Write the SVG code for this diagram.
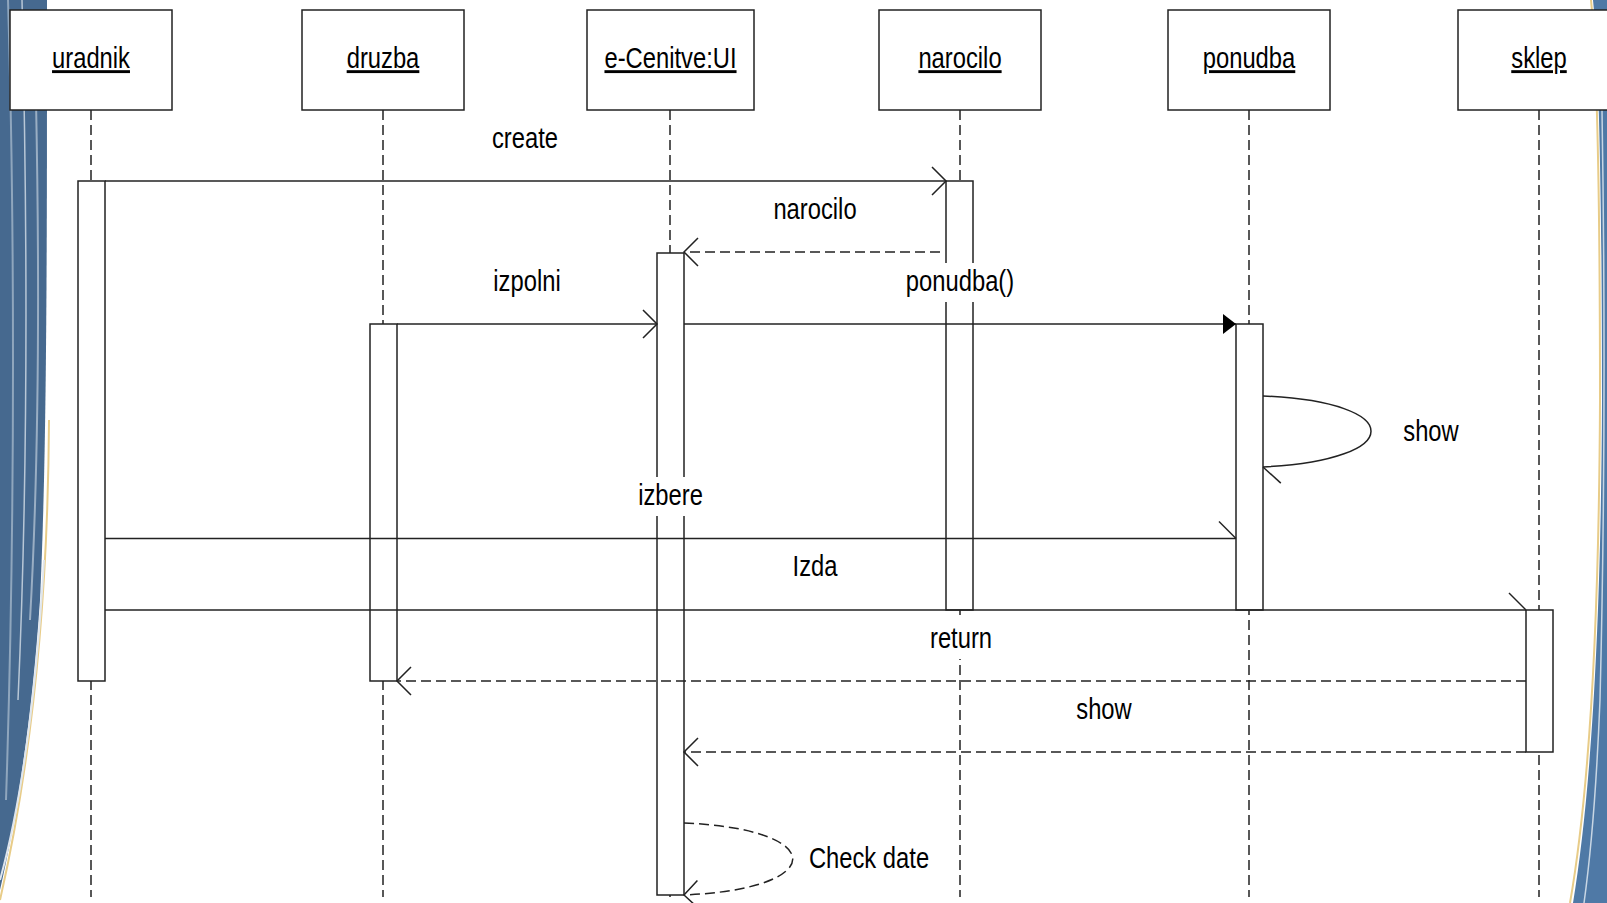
<svg xmlns="http://www.w3.org/2000/svg" width="1607" height="903" viewBox="0 0 1607 903">
<style>
.bx{fill:#fff;stroke:#222;stroke-width:1.5}
.act{fill:#fff;stroke:#222;stroke-width:1.5}
.ll{fill:none;stroke:#222;stroke-width:1.5;stroke-dasharray:10 5}
.msg{fill:none;stroke:#222;stroke-width:1.5}
.ret{fill:none;stroke:#222;stroke-width:1.5;stroke-dasharray:10 5}
.t{font-family:"Liberation Sans",Arial,sans-serif;font-size:29px;fill:#000;text-anchor:middle}
.u{text-decoration:underline}
.lb{fill:#fff}
</style>
<defs>
<marker id="open" markerUnits="userSpaceOnUse" orient="auto" overflow="visible" markerWidth="1" markerHeight="1" refX="0" refY="0">
<path d="M-14,-14 L0,0 L-14,14" fill="none" stroke="#222" stroke-width="1.5" stroke-dasharray="none"/>
</marker>
<marker id="half" markerUnits="userSpaceOnUse" orient="auto" overflow="visible" markerWidth="1" markerHeight="1" refX="0" refY="0">
<path d="M-17,-17 L0,0" fill="none" stroke="#222" stroke-width="1.5" stroke-dasharray="none"/>
</marker>
<marker id="fill" markerUnits="userSpaceOnUse" orient="auto" overflow="visible" markerWidth="1" markerHeight="1" refX="0" refY="0">
<path d="M-13,-10 L0,0 L-13,10 Z" fill="#000" stroke="none"/>
</marker>
</defs>
<rect x="0" y="0" width="1607" height="903" fill="#fff"/>
<g id="decoration">
<path d="M0,0 L47,0 C47,250 47,450 40,600 C32,720 16,820 0,890 Z" fill="#46698f"/>
<path d="M8,0 C14,200 16,500 6,800" fill="none" stroke="#8fa6bd" stroke-width="2"/>
<path d="M22,0 C28,250 28,480 18,700" fill="none" stroke="#b8c7d6" stroke-width="1.5"/>
<path d="M36,100 C40,300 38,480 30,620" fill="none" stroke="#9aaec3" stroke-width="2"/>
<path d="M49,420 C48,600 32,760 0,900" fill="none" stroke="#e8cc88" stroke-width="2"/>
<path d="M44,560 C36,700 22,800 0,880" fill="none" stroke="#dfe6ee" stroke-width="2"/>
<path d="M1607,0 L1593,0 C1599,60 1602,200 1602,400 C1601,640 1590,800 1573,903 L1607,903 Z" fill="#4f79a6"/>
<path d="M1591,0 C1597,60 1600,200 1600,400 C1599,640 1588,800 1570,903" fill="none" stroke="#e8cc88" stroke-width="2"/>
<path d="M1602,110 C1605,300 1605,500 1600,700 C1596,800 1590,860 1584,903" fill="none" stroke="#c8d6e4" stroke-width="1.5"/>
</g>
<g id="lifelines">
<line class="ll" x1="91" y1="110" x2="91" y2="897"/>
<line class="ll" x1="383" y1="110" x2="383" y2="897"/>
<line class="ll" x1="670" y1="110" x2="670" y2="897"/>
<line class="ll" x1="960" y1="110" x2="960" y2="897"/>
<line class="ll" x1="1249" y1="110" x2="1249" y2="897"/>
<line class="ll" x1="1539" y1="110" x2="1539" y2="897"/>
</g>
<g id="uradnik"><rect class="bx" x="10" y="10" width="162" height="100"/><text class="t u" transform="translate(91,68) scale(0.82,1)">uradnik</text><rect class="act" x="78" y="181" width="27" height="500"/></g>
<g id="druzba"><rect class="bx" x="302" y="10" width="162" height="100"/><text class="t u" transform="translate(383,68) scale(0.82,1)">druzba</text><rect class="act" x="370" y="324" width="27" height="357"/></g>
<g id="e-cenitve"><rect class="bx" x="587" y="10" width="167" height="100"/><text class="t u" transform="translate(670.5,68) scale(0.82,1)">e-Cenitve:UI</text><rect class="act" x="657" y="253" width="27" height="642"/></g>
<g id="narocilo"><rect class="bx" x="879" y="10" width="162" height="100"/><text class="t u" transform="translate(960,68) scale(0.82,1)">narocilo</text><rect class="act" x="946" y="181" width="27" height="429"/></g>
<g id="ponudba"><rect class="bx" x="1168" y="10" width="162" height="100"/><text class="t u" transform="translate(1249,68) scale(0.82,1)">ponudba</text><rect class="act" x="1236" y="324" width="27" height="286"/></g>
<g id="sklep"><rect class="bx" x="1458" y="10" width="162" height="100"/><text class="t u" transform="translate(1539,68) scale(0.82,1)">sklep</text><rect class="act" x="1526" y="610" width="27" height="142"/></g>
<g id="connectors">
<line class="msg" x1="105" y1="181" x2="946" y2="181" marker-end="url(#open)"/>
<line class="ret" x1="940" y1="252" x2="684" y2="252" marker-end="url(#open)"/>
<line class="msg" x1="397" y1="324" x2="657" y2="324" marker-end="url(#open)"/>
<line class="msg" x1="684" y1="324" x2="1236" y2="324" marker-end="url(#fill)"/>
<path class="msg" d="M1263,396 C1407,402 1407,460 1263,467" marker-end="url(#half)"/>
<line class="msg" x1="105" y1="538.5" x2="1236" y2="538.5" marker-end="url(#half)"/>
<line class="msg" x1="105" y1="610" x2="1526" y2="610" marker-end="url(#half)"/>
<line class="ret" x1="1526" y1="681" x2="397" y2="681" marker-end="url(#open)"/>
<line class="ret" x1="1526" y1="752" x2="684" y2="752" marker-end="url(#open)"/>
<path class="ret" d="M684,823 C829,829 829,889 684,895" marker-end="url(#open)"/>
</g>
<g id="labels">
<rect class="lb" x="490" y="120" width="70" height="39"/><text class="t" transform="translate(525,148) scale(0.82,1)">create</text>
<rect class="lb" x="762" y="191" width="106" height="39"/><text class="t" transform="translate(815,219) scale(0.82,1)">narocilo</text>
<rect class="lb" x="490" y="263" width="74" height="39"/><text class="t" transform="translate(527,291) scale(0.82,1)">izpolni</text>
<rect class="lb" x="903" y="263" width="114" height="39"/><text class="t" transform="translate(960,291) scale(0.82,1)">ponudba()</text>
<rect class="lb" x="1399" y="413" width="64" height="39"/><text class="t" transform="translate(1431,441) scale(0.82,1)">show</text>
<rect class="lb" x="635" y="477" width="71" height="39"/><text class="t" transform="translate(670.5,505) scale(0.82,1)">izbere</text>
<rect class="lb" x="790" y="548" width="50" height="39"/><text class="t" transform="translate(815,576) scale(0.82,1)">Izda</text>
<rect class="lb" x="927" y="620" width="68" height="39"/><text class="t" transform="translate(961,648) scale(0.82,1)">return</text>
<rect class="lb" x="1073" y="691" width="62" height="39"/><text class="t" transform="translate(1104,719) scale(0.82,1)">show</text>
<rect class="lb" x="805" y="840" width="128" height="39"/><text class="t" transform="translate(869,868) scale(0.82,1)">Check date</text>
</g>
</svg>
